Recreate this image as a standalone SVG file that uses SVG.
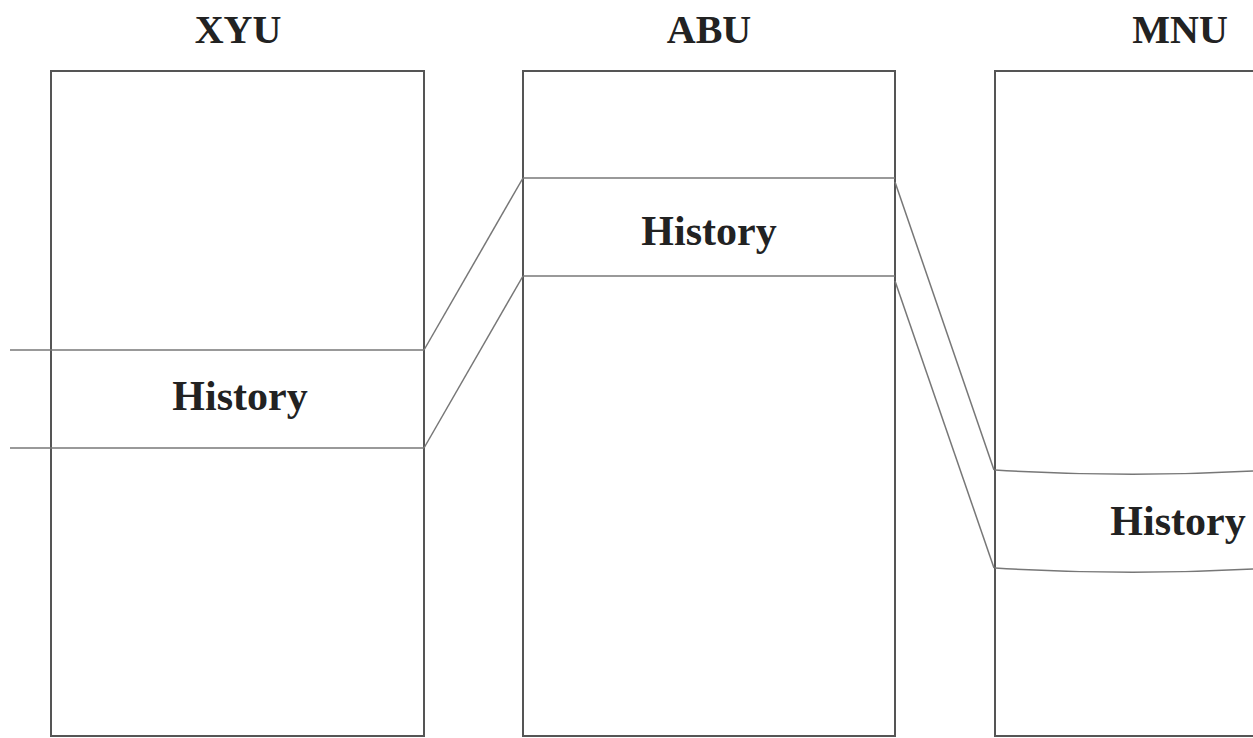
<svg xmlns="http://www.w3.org/2000/svg" width="1253" height="738" viewBox="0 0 1253 738">
<style>
.box{fill:#fff;stroke:#555;stroke-width:2}
.band{fill:none;stroke:#777;stroke-width:1.5}
.title{font-family:"Liberation Serif",serif;font-weight:bold;font-size:40px;fill:#222;text-anchor:middle}
.lbl{font-family:"Liberation Serif",serif;font-weight:bold;font-size:42px;fill:#222;text-anchor:middle}
</style>
<rect width="1253" height="738" fill="#fff"/>
<g id="xyu">
<rect class="box" x="51" y="71" width="373" height="665"/>
<text class="title" x="238" y="43">XYU</text>
</g>
<g id="abu">
<rect class="box" x="523" y="71" width="372" height="665"/>
<text class="title" x="709" y="43">ABU</text>
</g>
<g id="mnu">
<rect class="box" x="995" y="71" width="280" height="665"/>
<text class="title" x="1180" y="43">MNU</text>
</g>
<g id="history-xyu">
<line class="band" x1="10" y1="350" x2="424" y2="350"/>
<line class="band" x1="10" y1="448" x2="424" y2="448"/>
<text class="lbl" x="240" y="410">History</text>
</g>
<g id="history-abu">
<line class="band" x1="523" y1="178" x2="895" y2="178"/>
<line class="band" x1="523" y1="276" x2="895" y2="276"/>
<text class="lbl" x="709" y="245">History</text>
</g>
<g id="history-mnu">
<path class="band" d="M995 470 Q1124 478 1253 471"/>
<path class="band" d="M995 568 Q1124 576 1253 569"/>
<text class="lbl" x="1178" y="535">History</text>
</g>
<g id="connectors">
<line class="band" x1="424" y1="350" x2="523" y2="178"/>
<line class="band" x1="424" y1="448" x2="523" y2="276"/>
<line class="band" x1="895" y1="182" x2="994" y2="470"/>
<line class="band" x1="895" y1="281" x2="994" y2="568"/>
</g>
</svg>
